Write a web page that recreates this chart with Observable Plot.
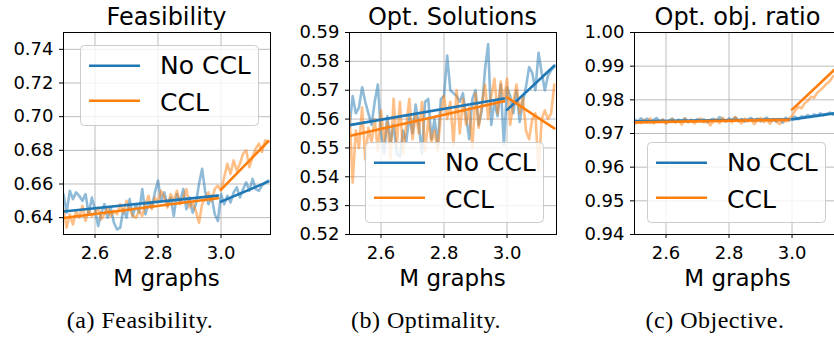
<!DOCTYPE html>
<html>
<head>
<meta charset="utf-8">
<script src="https://cdn.jsdelivr.net/npm/d3@7"></script>
<script src="https://cdn.jsdelivr.net/npm/@observablehq/plot@0.6"></script>
<style>
  html, body { margin: 0; padding: 0; background: white; }
  #fig { position: relative; width: 834px; height: 337px; overflow: hidden; background: white; }
  #fig > svg, #fig > figure { position: absolute; margin: 0; }
</style>
</head>
<body>
<div id="fig"></div>
<script>
// ---------------- data ----------------
const xs = [2.50,2.51,2.52,2.53,2.54,2.55,2.56,2.57,2.58,2.59,
            2.60,2.61,2.62,2.63,2.64,2.65,2.66,2.67,2.68,2.69,
            2.70,2.71,2.72,2.73,2.74,2.75,2.76,2.77,2.78,2.79,
            2.80,2.81,2.82,2.83,2.84,2.85,2.86,2.87,2.88,2.89,
            2.90,2.91,2.92,2.93,2.94,2.95,2.96,2.97,2.98,2.99,
            3.00,3.01,3.02,3.03,3.04,3.05,3.06,3.07,3.08,3.09,
            3.10,3.11,3.12,3.13,3.14,3.15];

const feasNoCCL = [0.654,0.643,0.656,0.651,0.655,0.653,0.650,0.654,0.642,0.652,
  0.645,0.635,0.643,0.648,0.640,0.646,0.637,0.633,0.634,0.645,
  0.640,0.651,0.641,0.648,0.643,0.657,0.642,0.649,0.646,0.655,
  0.662,0.650,0.655,0.647,0.652,0.641,0.654,0.649,0.657,0.645,
  0.652,0.643,0.648,0.660,0.669,0.655,0.648,0.653,0.642,0.638,
  0.654,0.648,0.653,0.649,0.655,0.658,0.652,0.657,0.661,0.656,
  0.663,0.657,0.656,0.659,0.661,0.662];
const feasCCL = [0.645,0.634,0.642,0.636,0.644,0.640,0.647,0.638,0.645,0.641,
  0.643,0.646,0.639,0.642,0.646,0.641,0.644,0.642,0.648,0.643,
  0.650,0.645,0.641,0.640,0.644,0.641,0.648,0.653,0.645,0.652,
  0.649,0.656,0.652,0.646,0.654,0.650,0.656,0.648,0.652,0.657,
  0.646,0.649,0.644,0.637,0.648,0.652,0.655,0.650,0.657,0.659,
  0.656,0.664,0.672,0.666,0.674,0.668,0.672,0.678,0.680,0.670,
  0.676,0.681,0.684,0.679,0.686,0.685];

const optNoCCL = [0.557,0.568,0.562,0.564,0.571,0.566,0.562,0.558,0.566,0.572,
  0.555,0.548,0.561,0.552,0.558,0.548,0.547,0.556,0.552,0.561,
  0.555,0.565,0.558,0.548,0.566,0.567,0.553,0.560,0.551,0.567,
  0.568,0.582,0.570,0.569,0.568,0.566,0.569,0.561,0.553,0.567,
  0.570,0.558,0.563,0.577,0.586,0.558,0.566,0.561,0.572,0.551,
  0.571,0.568,0.562,0.570,0.559,0.566,0.571,0.578,0.576,0.570,
  0.583,0.576,0.570,0.575,0.577,0.578];
const optCCL = [0.562,0.538,0.556,0.550,0.564,0.546,0.557,0.552,0.560,0.549,
  0.563,0.552,0.559,0.546,0.567,0.551,0.566,0.548,0.558,0.567,
  0.553,0.562,0.555,0.566,0.549,0.560,0.552,0.556,0.549,0.562,
  0.568,0.560,0.566,0.551,0.570,0.555,0.567,0.558,0.564,0.550,
  0.569,0.557,0.565,0.572,0.560,0.568,0.574,0.562,0.573,0.566,
  0.574,0.558,0.566,0.572,0.562,0.568,0.556,0.553,0.560,0.562,
  0.542,0.560,0.563,0.560,0.562,0.572];

const objNoCCL = [0.9742,0.9735,0.9745,0.9738,0.9744,0.9733,0.9740,0.9746,0.9736,0.9741,
  0.9732,0.9739,0.9744,0.9735,0.9741,0.9738,0.9745,0.9734,0.9740,0.9737,
  0.9743,0.9736,0.9742,0.9733,0.9740,0.9744,0.9738,0.9749,0.9741,0.9736,
  0.9745,0.9740,0.9748,0.9737,0.9743,0.9735,0.9741,0.9746,0.9738,0.9744,
  0.9736,0.9742,0.9747,0.9737,0.9741,0.9735,0.9743,0.9732,0.9747,0.9738,
  0.9745,0.9750,0.9742,0.9751,0.9748,0.9755,0.9749,0.9757,0.9752,0.9760,
  0.9754,0.9758,0.9762,0.9756,0.9761,0.9759];
const objCCL = [0.9728,0.9736,0.9731,0.9740,0.9733,0.9745,0.9730,0.9738,0.9735,0.9741,
  0.9729,0.9737,0.9743,0.9732,0.9739,0.9727,0.9744,0.9734,0.9741,0.9730,
  0.9738,0.9745,0.9733,0.9740,0.9724,0.9736,0.9742,0.9731,0.9747,0.9735,
  0.9741,0.9733,0.9749,0.9738,0.9730,0.9744,0.9736,0.9741,0.9728,0.9739,
  0.9746,0.9734,0.9740,0.9729,0.9743,0.9736,0.9728,0.9741,0.9735,0.9744,
  0.9752,0.9768,0.9779,0.9775,0.9790,0.9797,0.9809,0.9806,0.9821,0.9829,
  0.9838,0.9848,0.9856,0.9870,0.9872,0.9885];

// linear fits (two segments: before / after 3.0)
const fitX   = [2.50, 2.99, 3.00, 3.15];
const fitSeg = ["before", "before", "after", "after"];
const feasFitNoCCL = [0.6437, 0.6531, 0.6495, 0.6614];
const feasFitCCL   = [0.6398, 0.6515, 0.6567, 0.6854];
const optFitNoCCL  = [0.5579, 0.5671, 0.5632, 0.5785];
const optFitCCL    = [0.5541, 0.5662, 0.5675, 0.5568];
const objFitNoCCL  = [0.9736, 0.9742, 0.9742, 0.9762];
const objFitCCL    = [0.9733, 0.9741, 0.9771, 0.9903];

const xTicks = [2.6, 2.8, 3.0];
const feasTicks = [0.64, 0.66, 0.68, 0.70, 0.72, 0.74];
const optTicks  = [0.52, 0.53, 0.54, 0.55, 0.56, 0.57, 0.58, 0.59];
const objTicks  = [0.94, 0.95, 0.96, 0.97, 0.98, 0.99, 1.00];

const seriesNames = ["No CCL", "CCL"];
const colors = ["#1f77b4", "#ff7f0e"];
const titles = ["Feasibility", "Opt. Solutions", "Opt. obj. ratio"];
const captions = ["(a) Feasibility.", "(b) Optimality.", "(c) Objective."];
const xLabel = "M graphs";

// ---------------- layout ----------------
const fig = document.getElementById("fig");
const ML = 60, MR = 12, MT = 32, MB = 56, PW = 207, PH = 202;

const panels = [
  {plotLeft: 63,  yDomain: [0.63, 0.75], yTicks: feasTicks, series: [feasNoCCL, feasCCL], fits: [feasFitNoCCL, feasFitCCL],
   legend: {left: 80, top: 45}, caption: 140},
  {plotLeft: 349, yDomain: [0.52, 0.59], yTicks: optTicks, series: [optNoCCL, optCCL], fits: [optFitNoCCL, optFitCCL],
   legend: {left: 365, top: 142}, caption: 426},
  {plotLeft: 634, yDomain: [0.94, 1.00], yTicks: objTicks, series: [objNoCCL, objCCL], fits: [objFitNoCCL, objFitCCL],
   legend: {left: 647, top: 142}, caption: 715}
];

panels.forEach((p, i) => {
  const raw = [];
  p.series.forEach((vals, k) => vals.forEach((v, j) => raw.push({x: xs[j], y: v, s: seriesNames[k]})));
  const fits = [];
  p.fits.forEach((vals, k) => vals.forEach((v, j) => fits.push({x: fitX[j], y: v, seg: fitSeg[j], s: seriesNames[k]})));

  const chart = Plot.plot({
    width: ML + PW + MR,
    height: MT + PH + MB,
    marginLeft: ML, marginRight: MR, marginTop: MT, marginBottom: MB,
    style: {background: "transparent", fontFamily: "'DejaVu Sans', sans-serif", fontSize: "18px", color: "black", overflow: "visible"},
    x: {domain: [2.5, 3.157], label: null},
    y: {domain: p.yDomain, label: null},
    marks: [
      Plot.gridX(xTicks, {stroke: "#bdbdbd", strokeOpacity: 1, strokeWidth: 1}),
      Plot.gridY(p.yTicks, {stroke: "#bdbdbd", strokeOpacity: 1, strokeWidth: 1}),
      Plot.line(raw.filter(d => d.s === "No CCL"), {x: "x", y: "y", stroke: colors[0], strokeOpacity: 0.5, strokeWidth: 2.6, clip: true}),
      Plot.line(raw.filter(d => d.s === "CCL"), {x: "x", y: "y", stroke: colors[1], strokeOpacity: 0.5, strokeWidth: 2.6, clip: true}),
      Plot.line(fits.filter(d => d.s === "No CCL"), {x: "x", y: "y", z: "seg", stroke: colors[0], strokeWidth: 2.6, clip: true}),
      Plot.line(fits.filter(d => d.s === "CCL"), {x: "x", y: "y", z: "seg", stroke: colors[1], strokeWidth: 2.6, clip: true}),
      Plot.axisX({ticks: xTicks, tickFormat: d => d.toFixed(1), tickSize: 4, tickPadding: 8, fontSize: 18, label: null, stroke: "black"}),
      Plot.axisY({ticks: p.yTicks, tickFormat: d => d.toFixed(2), tickSize: 4, tickPadding: 6, fontSize: 18, label: null, stroke: "black"}),
      Plot.frame({stroke: "black", strokeWidth: 1})
    ]
  });
  chart.style.left = (p.plotLeft - ML) + "px";
  chart.style.top = "0px";
  fig.appendChild(chart);
});

// ---------------- text & legends overlay ----------------
const ov = d3.select(fig).append("svg")
  .attr("width", 834).attr("height", 337)
  .style("position", "absolute").style("left", "0px").style("top", "0px")
  .style("pointer-events", "none");

panels.forEach((p, i) => {
  const cx = p.plotLeft + PW / 2;
  ov.append("text").attr("x", cx).attr("y", 25).attr("text-anchor", "middle")
    .style("font-family", "'DejaVu Sans', sans-serif").style("font-size", "24px").text(titles[i]);
  ov.append("text").attr("x", cx).attr("y", 286).attr("text-anchor", "middle")
    .style("font-family", "'DejaVu Sans', sans-serif").style("font-size", "23px").text(xLabel);
  ov.append("text").attr("x", p.caption).attr("y", 328).attr("text-anchor", "middle")
    .style("font-family", "'Liberation Serif', serif").style("font-size", "24px").style("letter-spacing", "0.5px")
    .text(captions[i]);

  const g = ov.append("g").attr("transform", `translate(${p.legend.left},${p.legend.top})`);
  g.append("rect").attr("x", 0.5).attr("y", 0.5).attr("width", 178).attr("height", 80)
    .attr("rx", 4).attr("fill", "white").attr("fill-opacity", 0.8).attr("stroke", "#cccccc").attr("stroke-width", 1);
  seriesNames.forEach((name, k) => {
    const ly = [20.7, 55.7][k];
    g.append("line").attr("x1", 9).attr("x2", 60).attr("y1", ly).attr("y2", ly)
      .attr("stroke", colors[k]).attr("stroke-width", 2.6);
    g.append("text").attr("x", 80).attr("y", [29, 65.5][k])
      .style("font-family", "'DejaVu Sans', sans-serif").style("font-size", "25px").text(name);
  });
});
</script>
</body>
</html>
